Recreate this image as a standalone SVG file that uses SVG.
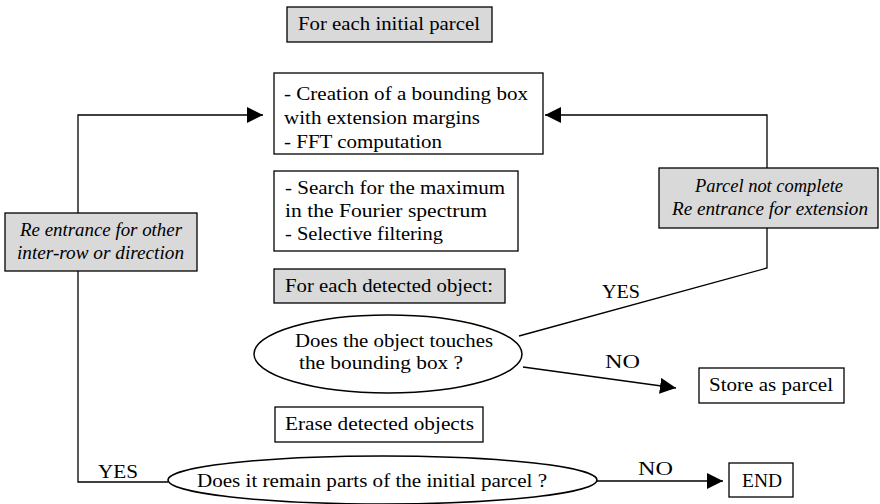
<svg xmlns="http://www.w3.org/2000/svg" width="880" height="504" viewBox="0 0 880 504">
<defs>
<marker id="ah" viewBox="0 0 10 10" refX="10" refY="5" markerWidth="16" markerHeight="16" markerUnits="userSpaceOnUse" orient="auto">
<path d="M0,0 L10,5 L0,10 z" fill="#000"/>
</marker>
<style>
.box{fill:#fff;stroke:#000;stroke-width:1.3}
.gray{fill:#d9d9d9;stroke:#000;stroke-width:1.3}
.ell{fill:#fff;stroke:#000;stroke-width:1.5}
.t{font-family:"Liberation Serif","Times New Roman",serif;font-size:19px;fill:#000}
.i{font-style:italic}
.m{text-anchor:middle}
.c{fill:none;stroke:#000;stroke-width:1.3}
</style>
</defs>
<rect width="880" height="504" fill="#fff"/>
<g id="connectors">
<polyline class="c" points="78,213 78,115 263,115" marker-end="url(#ah)"/>
<polyline class="c" points="78,271 78,482 168,482"/>
<polyline class="c" points="519,336 767,268 767,228"/>
<polyline class="c" points="767,169 767,115 545,115" marker-end="url(#ah)"/>
<line class="c" x1="523" y1="367" x2="676" y2="388" marker-end="url(#ah)"/>
<line class="c" x1="597" y1="481" x2="723" y2="481" marker-end="url(#ah)"/>
<text class="t" x="98" y="478" textLength="40" lengthAdjust="spacingAndGlyphs">YES</text>
<text class="t" x="602" y="298" textLength="38" lengthAdjust="spacingAndGlyphs">YES</text>
<text class="t" x="605" y="368" textLength="35" lengthAdjust="spacingAndGlyphs">NO</text>
<text class="t" x="638" y="475" textLength="35" lengthAdjust="spacingAndGlyphs">NO</text>
</g>
<g id="initial">
<rect class="gray" x="287" y="7" width="205" height="35"/>
<text class="t" x="298" y="30" textLength="182" lengthAdjust="spacingAndGlyphs">For each initial parcel</text>
</g>
<g id="bbox">
<rect class="box" x="274" y="73" width="269" height="81"/>
<text class="t" x="284" y="100" textLength="244" lengthAdjust="spacingAndGlyphs">- Creation of a bounding box</text>
<text class="t" x="284" y="124" textLength="196" lengthAdjust="spacingAndGlyphs">with extension margins</text>
<text class="t" x="284" y="148" textLength="158" lengthAdjust="spacingAndGlyphs">- FFT computation</text>
</g>
<g id="search">
<rect class="box" x="274" y="171" width="244" height="80"/>
<text class="t" x="285" y="194" textLength="220" lengthAdjust="spacingAndGlyphs">- Search for the maximum</text>
<text class="t" x="285" y="217" textLength="202" lengthAdjust="spacingAndGlyphs">in the Fourier spectrum</text>
<text class="t" x="285" y="240" textLength="158" lengthAdjust="spacingAndGlyphs">- Selective filtering</text>
</g>
<g id="eachobj">
<rect class="gray" x="274" y="269" width="231" height="34"/>
<text class="t" x="285" y="292" textLength="208" lengthAdjust="spacingAndGlyphs">For each detected object:</text>
</g>
<g id="touches">
<ellipse class="ell" cx="388" cy="354" rx="134" ry="39"/>
<text class="t" x="295" y="347" textLength="198" lengthAdjust="spacingAndGlyphs">Does the object touches</text>
<text class="t" x="299" y="369" textLength="164" lengthAdjust="spacingAndGlyphs">the bounding box ?</text>
</g>
<g id="store">
<rect class="box" x="699" y="368" width="145" height="35"/>
<text class="t" x="709" y="391" textLength="124" lengthAdjust="spacingAndGlyphs">Store as parcel</text>
</g>
<g id="erase">
<rect class="box" x="275" y="407" width="208" height="35"/>
<text class="t" x="285" y="430" textLength="189" lengthAdjust="spacingAndGlyphs">Erase detected objects</text>
</g>
<g id="remain">
<ellipse class="ell" cx="382.5" cy="480" rx="214.5" ry="24"/>
<text class="t" x="197" y="487" textLength="350" lengthAdjust="spacingAndGlyphs">Does it remain parts of the initial parcel ?</text>
</g>
<g id="end">
<rect class="box" x="729" y="463" width="64" height="34"/>
<text class="t" x="742" y="487" textLength="40" lengthAdjust="spacingAndGlyphs">END</text>
</g>
<g id="reextension">
<rect class="gray" x="659" y="168" width="219" height="60"/>
<text class="t i" x="695" y="192" textLength="148" lengthAdjust="spacingAndGlyphs">Parcel not complete</text>
<text class="t i" x="672" y="215" textLength="196" lengthAdjust="spacingAndGlyphs">Re entrance for extension</text>
</g>
<g id="reother">
<rect class="gray" x="5" y="213" width="192" height="58"/>
<text class="t i" x="20" y="236" textLength="162" lengthAdjust="spacingAndGlyphs">Re entrance for other</text>
<text class="t i" x="17" y="259" textLength="167" lengthAdjust="spacingAndGlyphs">inter-row or direction</text>
</g>
</svg>
